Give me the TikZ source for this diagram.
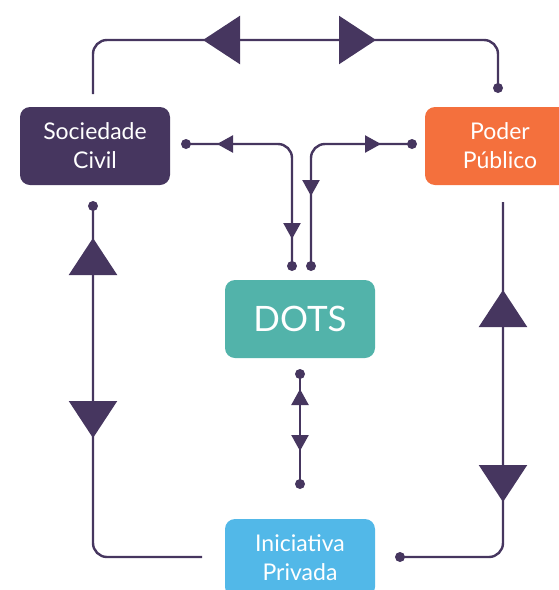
\documentclass[tikz,border=0pt]{standalone}
\usepackage{fontspec}
\setmainfont{Lato}
\usetikzlibrary{arrows.meta}

\definecolor{civil}{HTML}{46365F}
\definecolor{publico}{HTML}{F4703D}
\definecolor{dots}{HTML}{52B3AA}
\definecolor{privada}{HTML}{52B8E8}

\begin{document}
\begin{tikzpicture}[x=1pt, y=-1pt, line width=2.4pt]
    \tikzset{
      box/.style={rounded corners=10pt, minimum width=150pt, minimum height=78pt,
        inner sep=0pt, align=center, text=white, font=\fontsize{23}{29}\selectfont},
      link/.style={draw=civil, rounded corners=14pt},
      bigtip/.style={draw=civil, fill=civil, -{Triangle[length=37pt, width=48pt]}},
      smalltip/.style={draw=civil, fill=civil, -{Triangle[length=16pt, width=17pt]}},
    }
    \clip (0,0) rectangle (559,590);

    % the four boxes
    \node [box, fill=civil]   (civil)   at (95,146)  {Sociedade\\Civil};
    \node [box, fill=publico] (publico) at (500,146) {Poder\\Público};
    \node [box, fill=dots, font=\fontsize{35}{40}\selectfont] (dots) at (300,319) {DOTS};
    \node [box, fill=privada] (privada) at (300,558) {Iniciativa\\Privada};

    % end points of the links
    \coordinate (topA) at (93,94);
    \coordinate (topB) at (498,88);
    \coordinate (leftA) at (93,206);
    \coordinate (leftB) at (202,557);
    \coordinate (rightA) at (503,202);
    \coordinate (rightB) at (400,557);
    \coordinate (midA) at (300,374);
    \coordinate (midB) at (300,484);
    \coordinate (tA) at (186,144);
    \coordinate (tB) at (292,266);
    \coordinate (tC) at (412,144);
    \coordinate (tD) at (311,266);

    \draw [link] (topA) |- (topB |- 0,40) -- (topB);
    \draw [link] (leftA) |- (leftB);
    \draw [link] (rightA) |- (rightB);
    \draw [link] (midA) -- (midB);
    \draw [link] (tA) -| (tB);
    \draw [link] (tC) -| (tD);

    \foreach \point in {topB,leftA,rightB,midA,midB,tA,tB,tC,tD}
      \fill [civil] (\point) circle (5pt);

    % arrow heads
    \draw [bigtip] (240,40) -- (203,40);
    \draw [bigtip] (339,40) -- (376,40);
    \draw [bigtip] (93,273) -- (93,238);
    \draw [bigtip] (93,403) -- (93,438);
    \draw [bigtip] (503,327) -- (503,290);
    \draw [bigtip] (503,465) -- (503,502);
    \draw [smalltip] (233,144) -- (217,144);
    \draw [smalltip] (365,144) -- (381,144);
    \draw [smalltip] (292,223) -- (292,239);
    \draw [smalltip] (311,180) -- (311,196);
    \draw [smalltip] (300,407) -- (300,389);
    \draw [smalltip] (300,435) -- (300,451);
\end{tikzpicture}
\end{document}
